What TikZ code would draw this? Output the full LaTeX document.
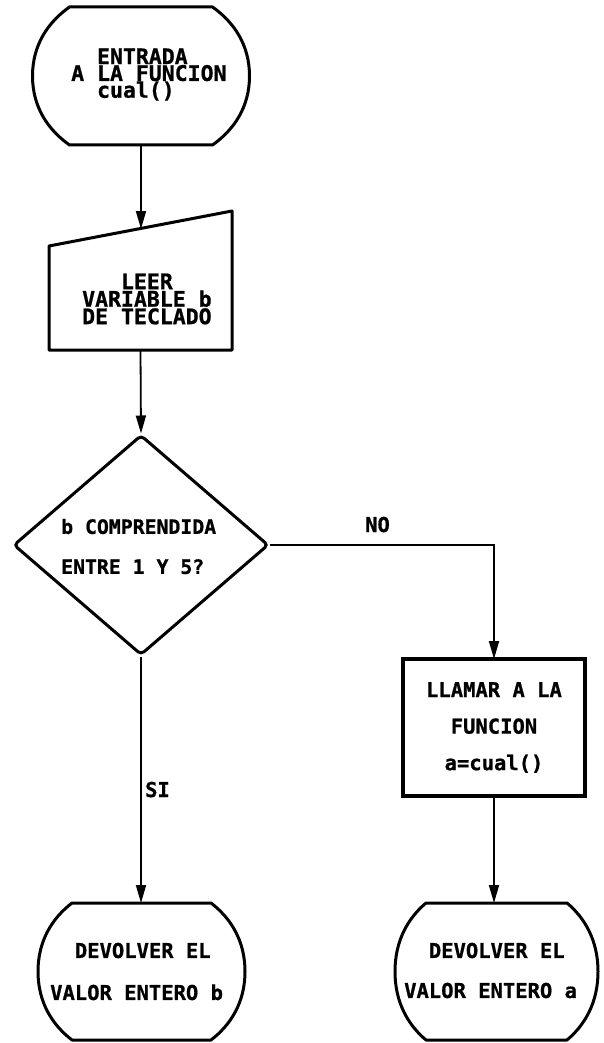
\documentclass[tikz,border=0pt]{standalone}
\usepackage{fontspec}
\newfontfamily\plotfont{DejaVu Sans Mono}[BoldFont={DejaVu Sans Mono Bold},BoldFeatures={FakeBold=0.8}]
\usetikzlibrary{arrows.meta,shapes.geometric}

% terminal outline: centre x, centre y, half width, half height, side inset
\newcommand\termshape[5]{%
  \draw[shapeline] ({#1-#3+#5},{#2-#4}) -- ({#1+#3-#5},{#2-#4})
    .. controls ({#1+#3-0.42*#5},{#2-0.78*#4}) and ({#1+#3},{#2-0.45*#4}) .. ({#1+#3},{#2})
    .. controls ({#1+#3},{#2+0.45*#4}) and ({#1+#3-0.42*#5},{#2+0.78*#4}) .. ({#1+#3-#5},{#2+#4})
    -- ({#1-#3+#5},{#2+#4})
    .. controls ({#1-#3+0.42*#5},{#2+0.78*#4}) and ({#1-#3},{#2+0.45*#4}) .. ({#1-#3},{#2})
    .. controls ({#1-#3},{#2-0.45*#4}) and ({#1-#3+0.42*#5},{#2-0.78*#4}) .. cycle;}

\begin{document}
\begin{tikzpicture}[x=1pt,y=-1pt,
  shapeline/.style={line width=3pt, line join=round},
  blank/.style={shape=rectangle, inner sep=0pt, outer sep=0pt},
  flow/.style={line width=1.8pt, -{Triangle[length=18pt,width=10pt]}},
  bigtxt/.style={font=\plotfont\bfseries\fontsize{21.5}{17.5}\selectfont, inner sep=0pt, align=left},
  txt/.style={inner sep=0pt},
  lbl/.style={font=\plotfont\bfseries\fontsize{20.5}{24}\selectfont, inner sep=0pt, anchor=base}]
\useasboundingbox[fill=white] (0,0) rectangle (603,1043);

% entry terminal
\node[blank, minimum width=217pt, minimum height=138pt] (entrada) at (141,76) {};
\termshape{141}{76}{108.5}{69}{37}
\node[bigtxt, anchor=west, font=\plotfont\bfseries\fontsize{21.5}{16.8}\selectfont] (entradatxt) at (71,74.5)
  {\phantom{AA}ENTRADA\\A LA FUNCION\\\phantom{AA}cual()};

% keyboard input
\node[blank, minimum width=183pt, minimum height=139pt] (leer) at (140.5,280.5) {};
\draw[shapeline] ([yshift=-35pt]leer.north west) -- (leer.north east)
  -- (leer.south east) -- (leer.south west) -- cycle;
\coordinate (leerin) at (141,229);
\node[bigtxt, anchor=west] (leertxt) at (82,299)
  {\phantom{AAA}LEER\\VARIABLE b\\DE TECLADO};

% decision
\node[shape=diamond, draw, line width=3pt, rounded corners=4pt, inner sep=0pt,
      minimum width=255pt, minimum height=220pt] (cond) at (141,545) {};
\node[txt, anchor=west, align=left, font=\plotfont\bfseries\fontsize{19.8}{40}\selectfont] (condtxt) at (61,546.5)
  {b COMPRENDIDA\\ENTRE 1 Y 5?};

% recursive call
\node[blank, draw, line width=3.5pt, minimum width=182pt, minimum height=137pt] (llamar) at (494,727.5) {};
\node[txt, align=center, font=\plotfont\bfseries\fontsize{20.5}{36.5}\selectfont] (llamartxt) at (494,727.5)
  {LLAMAR A LA\\FUNCION\\a=cual()};

% return terminals
\node[blank, minimum width=207pt, minimum height=137pt] (devb) at (141.5,971.5) {};
\termshape{141.5}{971.5}{103.5}{68.5}{34}
\node[txt, anchor=west, align=left, font=\plotfont\bfseries\fontsize{20.5}{42}\selectfont] (devbtxt) at (50,971.5)
  {\phantom{AA}DEVOLVER EL\\VALOR ENTERO b};

\node[blank, minimum width=203pt, minimum height=137pt] (deva) at (496.5,971.5) {};
\termshape{496.5}{971.5}{101.5}{68.5}{31}
\node[txt, anchor=west, align=left, font=\plotfont\bfseries\fontsize{20.5}{40}\selectfont] (devatxt) at (404,970.5)
  {\phantom{AA}DEVOLVER EL\\VALOR ENTERO a};

% connectors
\draw[flow] (entrada.south) -- (leerin);
\draw[flow] (leer.south) -- (cond.north);
\draw[flow] (cond.east) -| (llamar.north);
\draw[flow] (cond.south) -- (cond.south |- devb.north);
\draw[flow] (llamar.south) -- (llamar.south |- deva.north);

% branch labels
\node[lbl] (no) at (377.5,532) {NO};
\node[lbl] (si) at (157.5,797) {SI};
\end{tikzpicture}
\end{document}
